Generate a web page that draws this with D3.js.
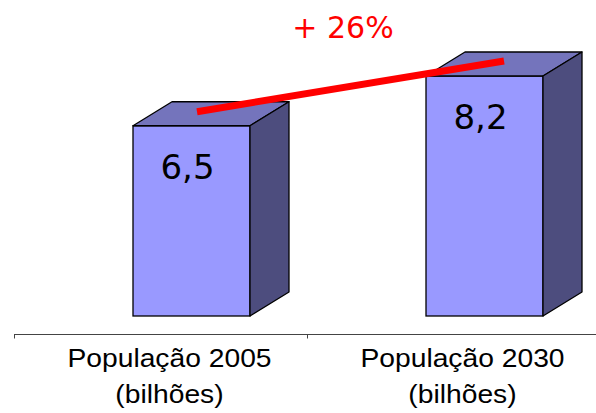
<!doctype html>
<html lang="pt-br">
<head>
    <meta charset="UTF-8">
    <title>População mundial</title>
    <script src="https://d3js.org/d3.v7.min.js"></script>
    <style>
        body { margin: 0; background: #fff; }
        svg { display: block; font-family: "Liberation Sans", Arial, sans-serif; }
    </style>
</head>
<body>
    <script>
        // dados
        var categories = ['População 2005', 'População 2030'];
        var unitLabel = '(bilhões)';
        var values = [6.5, 8.2];
        var valueLabels = ['6,5', '8,2'];
        var growthLabel = '+ 26%';

        var width = 596;
        var height = 413;
        var stretch = 1.13; // rótulos das categorias aparecem um pouco esticados

        var svg = d3.select('body').append('svg')
            .attr('width', width)
            .attr('height', height);

        var x = d3.scaleBand().domain(categories).range([14, 600]).padding(0);
        var y = d3.scaleLinear().domain([0, 10]).range([316, 23.3]);

        var barOffset = 119, barW = 117, dx = 39, dy = 24;
        var base = y(0);

        var bars = categories.map(function(c, i) {
            var l = x(c) + barOffset;
            return { l: l, r: l + barW, top: y(values[i]), label: valueLabels[i] };
        });

        var g = svg.append('g').attr('class', 'bars');

        bars.forEach(function(b) {
            // frente
            g.append('rect')
                .attr('x', b.l).attr('y', b.top)
                .attr('width', b.r - b.l).attr('height', base - b.top)
                .attr('fill', '#9999ff')
                .attr('stroke', '#000').attr('stroke-width', 1.3);
            // topo
            g.append('polygon')
                .attr('points', [[b.l, b.top], [b.l + dx, b.top - dy], [b.r + dx, b.top - dy], [b.r, b.top]].join(' '))
                .attr('fill', '#7474bc')
                .attr('stroke', '#000').attr('stroke-width', 1.3).attr('stroke-linejoin', 'round');
            // lateral
            g.append('polygon')
                .attr('points', [[b.r, b.top], [b.r + dx, b.top - dy], [b.r + dx, base - dy], [b.r, base]].join(' '))
                .attr('fill', '#4d4d7e')
                .attr('stroke', '#000').attr('stroke-width', 1.3).attr('stroke-linejoin', 'round');
            // valor
            g.append('text')
                .attr('x', (b.l + b.r) / 2 - 4)
                .attr('y', b.top + 53)
                .attr('text-anchor', 'middle')
                .attr('font-family', '"DejaVu Sans", Verdana, sans-serif')
                .attr('font-size', 34)
                .attr('fill', '#000')
                .text(b.label);
        });

        // linha de crescimento
        var b0 = bars[0], b1 = bars[1];
        svg.append('line')
            .attr('x1', (b0.l + b0.r + dx) / 2 - 14).attr('y1', b0.top - dy / 2 - 2)
            .attr('x2', (b1.l + b1.r + dx) / 2).attr('y2', b1.top - dy / 2 - 3)
            .attr('stroke', '#ff0000')
            .attr('stroke-width', 7);

        svg.append('text')
            .attr('x', 343).attr('y', 38)
            .attr('text-anchor', 'middle')
            .attr('font-family', '"DejaVu Sans", Verdana, sans-serif')
            .attr('font-size', 30)
            .attr('fill', '#ff0000')
            .text(growthLabel);

        // eixo das categorias
        var axisY = 334.5;
        svg.append('line')
            .attr('x1', 14).attr('x2', width)
            .attr('y1', axisY).attr('y2', axisY)
            .attr('stroke', '#444').attr('stroke-width', 1);

        svg.selectAll('.tick')
            .data(categories)
            .enter().append('line')
            .attr('class', 'tick')
            .attr('x1', function(d) { return Math.round(x(d)) + 0.5; })
            .attr('x2', function(d) { return Math.round(x(d)) + 0.5; })
            .attr('y1', axisY).attr('y2', axisY + 4)
            .attr('stroke', '#444');

        var labels = svg.selectAll('.cat')
            .data(categories)
            .enter().append('text')
            .attr('class', 'cat')
            .attr('text-anchor', 'middle')
            .attr('font-size', 25)
            .attr('fill', '#000')
            .attr('transform', function(d) {
                return 'translate(' + (x(d) + x.bandwidth() / 2 + 9) + ',367) scale(' + stretch + ',1)';
            });

        labels.append('tspan').attr('x', 0).attr('y', 0).text(function(d) { return d; });
        labels.append('tspan').attr('x', 0).attr('y', 36).text(unitLabel);
    </script>
</body>
</html>
